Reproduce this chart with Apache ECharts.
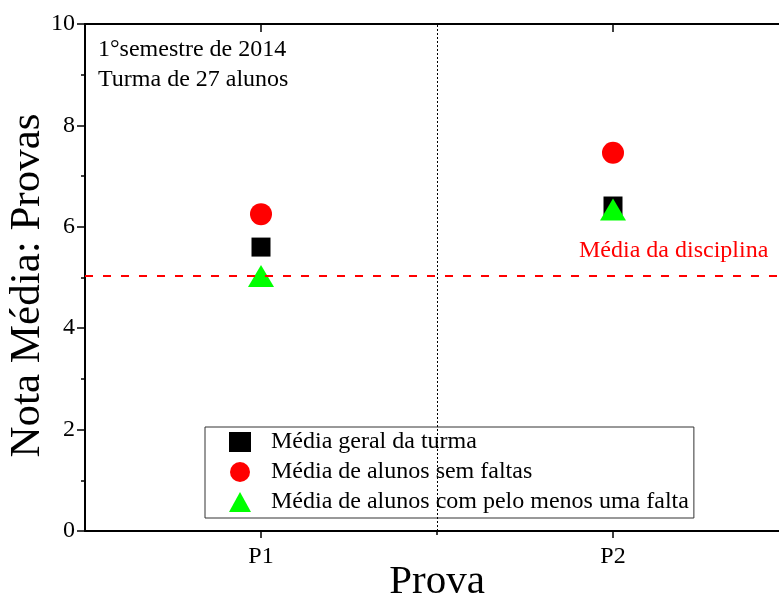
<!DOCTYPE html>
<html>
<head>
<meta charset="utf-8">
<script src="https://cdn.jsdelivr.net/npm/echarts@6/dist/echarts.min.js"></script>
<style>
  html, body { margin: 0; padding: 0; background: #fff; }
  #chart { width: 779px; height: 599px; }
</style>
</head>
<body>
<div id="chart"></div>
<script>
// dados
var provas = ['P1', 'P2'];
var provaPos = [1, 2];
var mediaGeral = [5.60, 6.41];
var semFaltas = [6.25, 7.46];
var comFalta = [5.03, 6.34];
var mediaDisciplina = 5.04;
var nomes = ['Média geral da turma', 'Média de alunos sem faltas', 'Média de alunos com pelo menos uma falta'];

var fonte = '"Liberation Serif", "Times New Roman", serif';

function pares(vals) {
	return provaPos.map(function(x, i) { return [x, vals[i]]; });
}

var chart = echarts.init(document.getElementById('chart'));
var option = {
	animation: false,
	grid: { left: 85, top: 24, width: 704, height: 507, containLabel: false, outerBoundsMode: 'none' },
	xAxis: [
		{
			type: 'value', min: 0.5, max: 2.5, interval: 0.5,
			name: 'Prova', nameLocation: 'middle', nameGap: 31, nameMoveOverlap: false,
			nameTextStyle: { fontFamily: fonte, fontSize: 41, color: '#000' },
			axisLine: { show: true, onZero: false, lineStyle: { color: '#000', width: 2 } },
			axisTick: { show: true, customValues: provaPos, length: 7, lineStyle: { color: '#000', width: 1.5 } },
			axisLabel: {
				customValues: provaPos, margin: 14,
				fontFamily: fonte, fontSize: 24, color: '#000',
				formatter: function(v) { return provas[provaPos.indexOf(v)] || ''; }
			},
			splitLine: { show: false }
		},
		{
			// marca menor entre P1 e P2
			type: 'value', min: 0.5, max: 2.5, interval: 0.5, position: 'bottom',
			axisLine: { show: false },
			axisTick: { show: true, customValues: [1.5], length: 4, lineStyle: { color: '#000', width: 1.5 } },
			axisLabel: { show: false },
			splitLine: { show: false }
		},
		{
			type: 'value', min: 0.5, max: 2.5, interval: 0.5, position: 'top',
			axisLine: { show: true, onZero: false, lineStyle: { color: '#000', width: 2 } },
			axisTick: { show: true, inside: true, customValues: provaPos, length: 8, lineStyle: { color: '#000', width: 1.5 } },
			axisLabel: { show: false },
			splitLine: { show: false }
		}
	],
	yAxis: {
		type: 'value', min: 0, max: 10, interval: 2,
		name: 'Nota Média: Provas', nameLocation: 'middle', nameGap: 36, nameMoveOverlap: false,
		nameTextStyle: { fontFamily: fonte, fontSize: 43, color: '#000', padding: [0, 16, 0, 0] },
		axisLine: { show: true, onZero: false, lineStyle: { color: '#000', width: 2 } },
		axisTick: { show: true, length: 8, lineStyle: { color: '#000', width: 1.5 } },
		minorTick: { show: true, splitNumber: 2, length: 4, lineStyle: { color: '#000', width: 1.5 } },
		axisLabel: { margin: 10, fontFamily: fonte, fontSize: 24, color: '#000' },
		splitLine: { show: false }
	},
	legend: {
		orient: 'vertical',
		left: 205, top: 427,
		padding: [3, 5, 4, 24],
		itemGap: 6,
		itemWidth: 22, itemHeight: 20,
		backgroundColor: '#fff',
		borderColor: '#333', borderWidth: 1,
		textStyle: { fontFamily: fonte, fontSize: 24, color: '#000', padding: [0, 0, 0, 15] },
		data: nomes
	},
	graphic: [
		{ type: 'text', left: 98, top: 38, style: { text: '1°semestre de 2014', fontFamily: fonte, fontSize: 24, fill: '#000' } },
		{ type: 'text', left: 98, top: 68, style: { text: 'Turma de 27 alunos', fontFamily: fonte, fontSize: 24, fill: '#000' } },
		{ type: 'text', left: 579, top: 239, style: { text: 'Média da disciplina', fontFamily: fonte, fontSize: 24, fill: '#ff0000' } }
	],
	series: [
		{
			name: nomes[0], type: 'scatter', symbol: 'rect', symbolSize: 19,
			itemStyle: { color: '#000', opacity: 1 },
			data: pares(mediaGeral),
			z: 3,
			markLine: {
				silent: true, symbol: 'none', label: { show: false },
				data: [
					{ yAxis: mediaDisciplina, lineStyle: { color: '#ff0000', type: [8, 10], width: 2 } },
					{ xAxis: 1.5, lineStyle: { color: '#000', type: [2, 2], width: 1 } }
				]
			}
		},
		{
			name: nomes[1], type: 'scatter', symbol: 'circle', symbolSize: 22,
			itemStyle: { color: '#ff0000', opacity: 1 },
			data: pares(semFaltas), z: 3
		},
		{
			name: nomes[2], type: 'scatter', symbol: 'triangle', symbolSize: [26, 22],
			itemStyle: { color: '#00ff00', opacity: 1 },
			data: pares(comFalta), z: 4
		}
	]
};
chart.setOption(option);
</script>
</body>
</html>
